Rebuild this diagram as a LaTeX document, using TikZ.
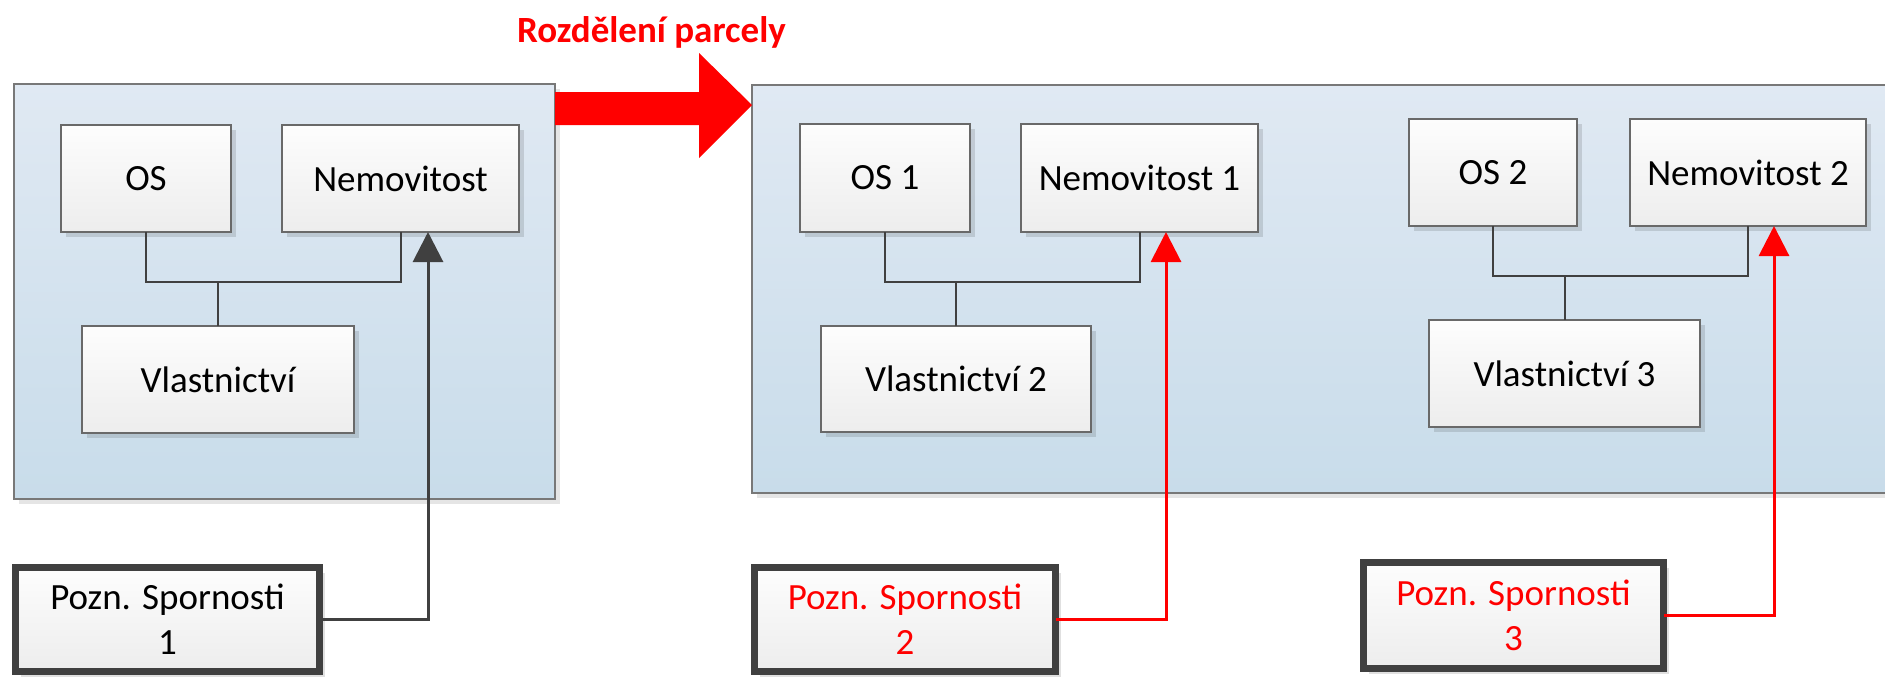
\documentclass[tikz,border=0pt]{standalone}
\usepackage{fontspec}
\setmainfont{Carlito}
\usetikzlibrary{arrows.meta,shadows,calc}
\definecolor{bigtop}{RGB}{224,233,243}
\definecolor{bigbot}{RGB}{200,220,234}
\definecolor{bigborder}{RGB}{120,120,120}
\definecolor{smalltop}{RGB}{253,253,253}
\definecolor{smallbot}{RGB}{237,237,237}
\definecolor{smallborder}{RGB}{105,105,105}
\definecolor{darkline}{RGB}{64,64,64}
\definecolor{pureRed}{RGB}{255,0,0}
\newcommand{\boxfont}{\fontsize{18.5pt}{22.6pt}\selectfont}
\begin{document}
\begin{tikzpicture}[x=0.5pt,y=-0.5pt,
  bigbox/.style={draw=bigborder, line width=1pt, top color=bigtop, bottom color=bigbot,
    drop shadow={shadow xshift=2.5pt, shadow yshift=-2.5pt, opacity=0.10, fill=black},
    inner sep=0pt, outer sep=0pt},
  smallbox/.style={draw=smallborder, line width=1pt, top color=smalltop, bottom color=smallbot,
    drop shadow={shadow xshift=2.5pt, shadow yshift=-2.5pt, opacity=0.12, fill=black},
    inner sep=0pt, outer sep=0pt, font=\boxfont, text=black},
  notebox/.style={draw=darkline, line width=3.5pt, top color=smalltop, bottom color=smallbot,
    drop shadow={shadow xshift=2.5pt, shadow yshift=-2.5pt, opacity=0.12, fill=black},
    inner sep=0pt, outer sep=0pt, font=\boxfont, align=center},
  conn/.style={draw=darkline, line width=1pt},
  darkarrow/.style={draw=darkline, line width=1.5pt, -{Triangle[length=15pt,width=15pt]}},
  redarrow/.style={draw=pureRed, line width=1.5pt, -{Triangle[length=15pt,width=15pt]}},
]
\useasboundingbox (0,0) rectangle (1885,676);

% big containers
\node[bigbox, minimum width=270.5pt, minimum height=207.5pt] (LB) at (284.5,291.5) {};
\node[bigbox, minimum width=580pt, minimum height=204pt, anchor=north west] (RB) at (752,85) {};

% title and block arrow
\node[font=\boxfont\bfseries, text=pureRed, anchor=base, inner sep=0pt] (T) at (651.5,42) {Rozdělení parcely};
\fill[pureRed] (555,92) -- (699,92) -- (699,53) -- (752,105) -- (699,158) -- (699,125) -- (555,125) -- cycle;

% left group
\node[smallbox, minimum width=85pt, minimum height=53.5pt] (OS) at (146,178.5) {OS};
\node[smallbox, minimum width=118.5pt, minimum height=53.5pt] (NEM) at (400.5,178.5) {Nemovitost};
\node[smallbox, minimum width=136pt, minimum height=53.5pt] (VL) at (218,379.5) {Vlastnictví};
\coordinate (B1) at ($(OS.south)+(0,50)$);
\draw[conn] (OS.south) -- (B1) -| (NEM.south);
\draw[conn] (VL.north) -- (VL.north |- B1);

% right group 1
\node[smallbox, minimum width=85pt, minimum height=54pt] (OS1) at (885,178) {OS 1};
\node[smallbox, minimum width=118.5pt, minimum height=54pt] (NEM1) at (1139.5,178) {Nemovitost 1};
\node[smallbox, minimum width=135pt, minimum height=53pt] (VL2) at (956,379) {Vlastnictví 2};
\coordinate (B2) at ($(OS1.south)+(0,50)$);
\draw[conn] (OS1.south) -- (B2) -| (NEM1.south);
\draw[conn] (VL2.north) -- (VL2.north |- B2);

% right group 2
\node[smallbox, minimum width=84pt, minimum height=53.5pt] (OS2) at (1493,172.5) {OS 2};
\node[smallbox, minimum width=118pt, minimum height=53.5pt] (NEM2) at (1748,172.5) {Nemovitost 2};
\node[smallbox, minimum width=135.5pt, minimum height=53.5pt] (VL3) at (1564.5,373.5) {Vlastnictví 3};
\coordinate (B3) at ($(OS2.south)+(0,50)$);
\draw[conn] (OS2.south) -- (B3) -| (NEM2.south);
\draw[conn] (VL3.north) -- (VL3.north |- B3);

% notes
\node[notebox, minimum width=152pt, minimum height=52pt, text=black] (P1) at (167.5,619.5) {Pozn. Spornosti\\1};
\node[notebox, minimum width=150.5pt, minimum height=52pt, text=pureRed] (P2) at (905,619.5) {Pozn. Spornosti\\2};
\node[notebox, minimum width=150pt, minimum height=53pt, text=pureRed] (P3) at (1513.5,615.5) {Pozn. Spornosti\\3};

% arrows
\draw[darkarrow] (P1.east) -| ([xshift=13.75pt]NEM.south);
\draw[redarrow] (P2.east) -| ([xshift=13.25pt]NEM1.south);
\draw[redarrow] (P3.east) -| ([xshift=13pt]NEM2.south);
\end{tikzpicture}
\end{document}
